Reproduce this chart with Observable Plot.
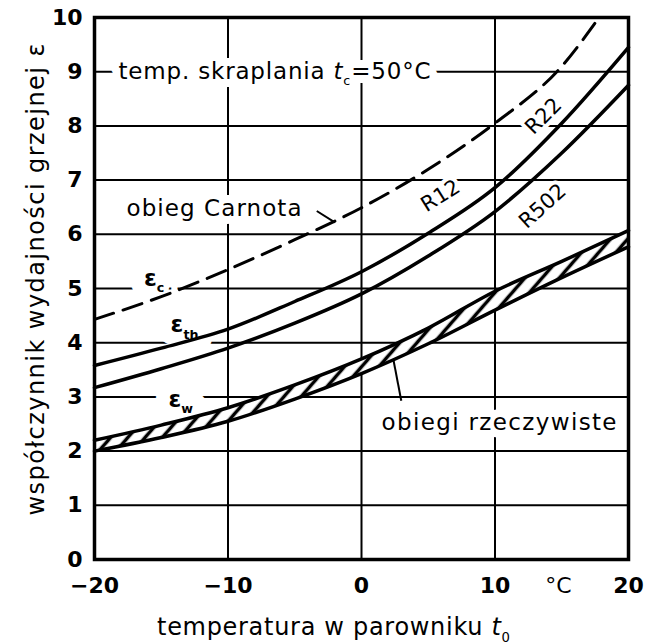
<!DOCTYPE html>
<html><head><meta charset="utf-8">
<script src="https://cdn.jsdelivr.net/npm/d3@7"></script>
<script src="https://cdn.jsdelivr.net/npm/@observablehq/plot@0.6"></script>
<style>html,body{margin:0;padding:0;background:#fff;}</style>
</head><body><div id="chart"></div>
<script>
// ---- data ----
const temps = [-20, -15, -10, -5, 0, 5, 10, 15, 20];
const carnotT = [-20, -15, -10, -5, 0, 5, 10, 15, 17.8];
const carnotE = [4.43, 4.85, 5.35, 5.9, 6.49, 7.2, 8.05, 9.1, 10.0];
const thUpperE = [3.58, 3.9, 4.25, 4.76, 5.31, 6.02, 6.86, 8.05, 9.45];
const thLowerE = [3.17, 3.52, 3.9, 4.36, 4.9, 5.6, 6.42, 7.5, 8.75];
const realTopE = [2.2, 2.48, 2.8, 3.22, 3.7, 4.27, 4.95, 5.5, 6.07];
const realBotE = [2.0, 2.25, 2.55, 2.96, 3.43, 3.98, 4.6, 5.2, 5.77];
const xTicks = [-20, -10, 0, 10, 20];
const yTicks = [0, 1, 2, 3, 4, 5, 6, 7, 8, 9, 10];
const xTitle = "temperatura w parowniku {i:t}{s:0}";
const yTitle = "współczynnik wydajności grzejnej ε";
const unitText = ["°C"];
const unitT = [14.75];
const unitE = [-0.49];
const noteText = ["temp. skraplania {i:t}{s:c}=50°C", "obieg Carnota", "obiegi rzeczywiste"];
const noteT = [-18.2, -17.6, 1.5];
const noteE = [9.0, 6.47, 2.52];
const epsText = ["ε{s:c}", "ε{s:th}", "ε{s:w}"];
const epsT = [-16.3, -14.3, -14.46];
const epsE = [5.18, 4.33, 2.95];
const refrText = ["R12", "R22", "R502"];
const refrT = [5.92, 13.63, 13.56];
const refrE = [6.71, 8.18, 6.52];
const refrAngle = [-32, -45, -42];
const leaderT1 = [-3.35, 2.38];
const leaderE1 = [6.43, 3.7];
const leaderT2 = [-2.0, 2.98];
const leaderE2 = [6.22, 2.93];

// ---- tables ----
const curves = temps.map((t, i) => ({t, top: realTopE[i], bot: realBotE[i], upper: thUpperE[i], lower: thLowerE[i]}));
const carnot = carnotT.map((t, i) => ({t, e: carnotE[i]}));
const notes = noteText.map((s, i) => ({s, t: noteT[i], e: noteE[i]}));
const eps = epsText.map((s, i) => ({s, t: epsT[i], e: epsE[i]}));
const refr = refrText.map((s, i) => ({s, t: refrT[i], e: refrE[i], a: refrAngle[i]}));
const units = unitText.map((s, i) => ({s, t: unitT[i], e: unitE[i]}));
const leaders = leaderT1.map((t, i) => ({t1: t, e1: leaderE1[i], t2: leaderT2[i], e2: leaderE2[i]}));

const curve = "monotone-x";
const halo = w => ({fill: "white", stroke: "white", strokeWidth: w, strokeLinejoin: "round"});
const noteOpts = {x: "t", y: "e", text: "s", textAnchor: "start", fontSize: 23};
const epsOpts = {x: "t", y: "e", text: "s", textAnchor: "start", fontSize: 23, fontWeight: "bold"};
const refrOpts = {x: "t", y: "e", text: "s", rotate: "a", fontSize: 21};

const svg = Plot.plot({
  width: 650, height: 644,
  marginLeft: 94, marginRight: 22, marginTop: 17, marginBottom: 85,
  x: {domain: [-20, 20]},
  y: {domain: [0, 10]},
  style: {fontFamily: "'DejaVu Sans', sans-serif", background: "white", color: "black"},
  marks: [
    Plot.gridX(xTicks, {stroke: "black", strokeOpacity: 1, strokeWidth: 2}),
    Plot.gridY(yTicks, {stroke: "black", strokeOpacity: 1, strokeWidth: 2}),
    // halos that knock out the grid behind labels
    Plot.text(notes, {...noteOpts, ...halo(16)}),
    Plot.text(eps, {...epsOpts, ...halo(28)}),
    Plot.text(refr, {...refrOpts, ...halo(8)}),
    Plot.text(notes, {...noteOpts, fill: "black"}),
    Plot.text(eps, {...epsOpts, fill: "black"}),
    Plot.text(refr, {...refrOpts, fill: "black"}),
    Plot.areaY(curves, {x: "t", y1: "bot", y2: "top", fill: "url(#hatch)", curve}),
    Plot.line(curves, {x: "t", y: "top", stroke: "black", strokeWidth: 3.5, curve}),
    Plot.line(curves, {x: "t", y: "bot", stroke: "black", strokeWidth: 3.5, curve}),
    Plot.line(curves, {x: "t", y: "upper", stroke: "black", strokeWidth: 3.5, curve}),
    Plot.line(curves, {x: "t", y: "lower", stroke: "black", strokeWidth: 3.5, curve}),
    Plot.line(carnot, {x: "t", y: "e", stroke: "black", strokeWidth: 3, strokeDasharray: "20,10", curve}),
    Plot.link(leaders, {x1: "t1", y1: "e1", x2: "t2", y2: "e2", stroke: "black", strokeWidth: 2}),
    Plot.frame({stroke: "black", strokeWidth: 3.5}),
    Plot.axisX(xTicks, {tickSize: 0, tickPadding: 18, fontSize: 22, fontWeight: "bold", label: null, tickFormat: d3.format("d")}),
    Plot.axisY(yTicks, {tickSize: 0, tickPadding: 12, fontSize: 22, fontWeight: "bold", label: null, tickFormat: d3.format("d")}),
    Plot.text(units, {x: "t", y: "e", text: "s", fontSize: 22, fill: "black"}),
    Plot.text([xTitle], {text: d => d, frameAnchor: "bottom", textAnchor: "middle", lineAnchor: "middle", dx: -28, dy: 68, fontSize: 24, fill: "black"}),
    Plot.text([yTitle], {text: d => d, frameAnchor: "left", textAnchor: "middle", lineAnchor: "middle", rotate: -90, dx: -58, dy: -9, fontSize: 24, fill: "black"})
  ]
});
document.getElementById("chart").appendChild(svg);

// hatch pattern
const ns = "http://www.w3.org/2000/svg";
const defs = document.createElementNS(ns, "defs");
defs.innerHTML = '<pattern id="hatch" patternUnits="userSpaceOnUse" width="13" height="13" patternTransform="rotate(41)">' +
  '<rect width="13" height="13" fill="white"/><line x1="6.5" y1="-1" x2="6.5" y2="14" stroke="black" stroke-width="3.5"/></pattern>';
svg.insertBefore(defs, svg.firstChild);

// rich text: {i:x} italic, {s:x} subscript; fit widths
const fitLen = new Map([[noteText[0], 312], [noteText[1], 175], [noteText[2], 235], [xTitle, 353], [yTitle, 472]]);
svg.querySelectorAll("text").forEach(el => {
  const s = el.textContent;
  if (s.includes("{")) {
    const base = parseFloat(getComputedStyle(el).fontSize) || 20;
    while (el.firstChild) el.removeChild(el.firstChild);
    const re = /\{([is]):([^}]*)\}/g;
    let last = 0, m, shifted = 0;
    const add = (txt, kind) => {
      const ts = document.createElementNS(ns, "tspan");
      ts.textContent = txt;
      if (kind === "s") {
        ts.setAttribute("font-size", (base * 0.55).toFixed(1));
        const d = base * 0.28;
        ts.setAttribute("dy", (d - shifted).toFixed(1));
        shifted = d;
      } else {
        if (kind === "i") ts.setAttribute("font-style", "italic");
        if (shifted) { ts.setAttribute("dy", (-shifted).toFixed(1)); shifted = 0; }
      }
      el.appendChild(ts);
    };
    while ((m = re.exec(s))) {
      if (m.index > last) add(s.slice(last, m.index), "n");
      add(m[2], m[1]);
      last = re.lastIndex;
    }
    if (last < s.length) add(s.slice(last), "n");
  }
  if (fitLen.has(s)) {
    el.setAttribute("textLength", fitLen.get(s));
    el.setAttribute("lengthAdjust", "spacing");
  }
});
</script>
</body></html>
